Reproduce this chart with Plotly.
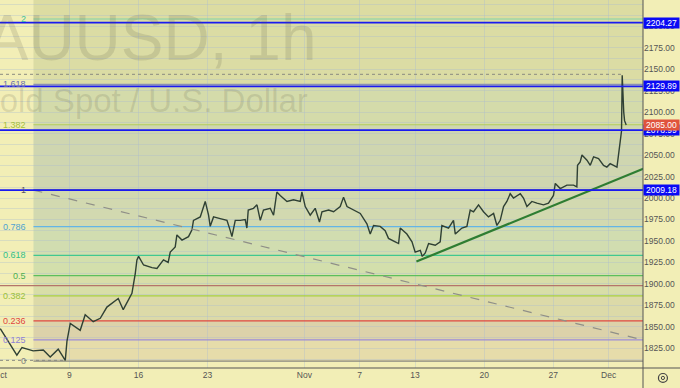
import plotly.graph_objects as go

# ---- data (x = trading days since Mon 2 Oct 2023) ----
day = [0.01, 0.49, 1.21, 1.58, 2.39, 3.12, 3.62, 4.20, 4.71, 4.83, 5.07, 5.79, 6.15, 6.73, 7.24, 7.72,
       8.54, 8.90, 9.53, 9.77, 9.89, 10.01, 10.37, 10.98, 11.34, 11.81, 12.15, 12.30, 12.66, 12.78,
       13.15, 13.62, 13.87, 13.98, 14.47, 14.83, 15.07, 15.19, 15.43, 15.91, 16.40, 16.64, 16.76,
       17.00, 17.36, 17.72, 17.84, 17.94, 18.32, 18.57, 18.81, 19.04, 19.53, 19.77, 20.01, 20.25,
       20.74, 21.21, 21.70, 21.82, 22.06, 22.42, 22.78, 23.09, 23.27, 23.75, 24.11, 24.59, 24.83,
       25.08, 25.55, 26.04, 26.52, 26.76, 27.00, 27.48, 27.84, 28.08, 28.57, 28.81, 28.93, 29.41,
       29.78, 30.01, 30.38, 30.52, 30.74, 30.98, 31.46, 31.82, 31.94, 32.42, 32.78, 32.91, 33.39,
       33.75, 33.99, 34.23, 34.59, 34.95, 35.31, 35.68, 35.92, 36.16, 36.40, 36.64, 36.88, 37.12,
       37.61, 37.84, 38.09, 38.45, 38.81, 39.29, 39.65, 40.01, 40.14, 40.50, 40.98, 41.46, 41.70,
       41.75, 41.94, 42.07, 42.43, 42.67, 42.91, 43.27, 43.63, 43.87, 44.11, 44.35, 44.60, 44.71,
       44.84, 44.93, 44.98, 45.03, 45.09, 45.15, 45.21, 45.27]
price = [1848, 1835, 1817, 1826, 1822, 1823, 1815, 1824, 1811, 1833, 1854, 1846, 1864, 1856, 1860, 1873,
         1883, 1870, 1889, 1912, 1928, 1932, 1922, 1919, 1918, 1928, 1925, 1937, 1943, 1957,
         1951, 1955, 1963, 1974, 1978, 1996, 1980, 1967, 1978, 1976, 1974, 1962, 1955,
         1974, 1974, 1975, 1965, 1986, 1988, 1992, 1974, 1986, 1988, 1980, 2007, 2003,
         1996, 1998, 1996, 2007, 1990, 1980, 1988, 1972, 1984, 1986, 1984, 1990, 2001,
         1990, 1986, 1982, 1970, 1958, 1968, 1967, 1962, 1953, 1949, 1947, 1965, 1958,
         1949, 1937, 1939, 1932, 1936, 1947, 1945, 1949, 1968, 1965, 1974, 1958, 1965,
         1967, 1986, 1984, 1992, 1984, 1978, 1982, 1968, 1974, 1990, 1996, 2005, 2000,
         2005, 2000, 1990, 1996, 1994, 1992, 1994, 2003, 2017, 2011, 2015, 2015, 2013,
         2038, 2042, 2050, 2044, 2038, 2048, 2046, 2038, 2036, 2040, 2038, 2036, 2050,
         2068, 2078, 2143, 2118, 2100, 2090, 2087, 2085]

tick_days = [0, 5, 10, 15, 22, 26, 30, 35, 40, 44]
tick_text = ["Oct", "9", "16", "23", "Nov", "7", "13", "20", "27", "Dec"]

fib_levels = [0, 0.125, 0.236, 0.382, 0.5, 0.618, 0.786, 1, 1.382, 1.618, 2]
fib_labels = ["0", "0.125", "0.236", "0.382", "0.5", "0.618", "0.786", "1", "1.382", "1.618", "2"]
fib_low, fib_high = 1810.0, 2009.2
fib_start_day = 2.41

hlines_blue = [2204.27, 2129.89, 2078.99, 2009.18]
last_price = 2085.00
high_price, high_day = 2144.0, 45.0
low_price, low_day = 1811.0, 4.7
brown_level = 1898.0

trend_days = [30.1, 46.5]
trend_prices = [1926, 2034]
dash_days = [2.41, 46.5]
dash_prices = [2009.2, 1834.7]

# ---- styling ----
x_range = [-0.01, 46.483]
y_range = [1802.1, 2230.5]
bg = "#f2eeb6"
line_cols = ["#8a8a80", "#9c8cd8", "#e0463f", "#a8cf40", "#5cbf5c", "#40c890", "#64b5e6",
             "#4a4a70", "#b0cc58", "#8a8fb5", "#80d4a8"]
lab_cols = ["#808080", "#8d7fd8", "#e0463f", "#9bc13b", "#4caf50", "#2fbf8a", "#4fa3d1",
            "#555566", "#a5c03a", "#6a6fb0", "#3dbf9a"]
band_cols = ["#e6dcaa", "#dcd2aa", "#dcdaa8", "#d8dea8", "#d3dfac", "#d1ddb0", "#d2d9b0",
             "#cfd6b0", "#d4dbaa", "#dbdca4", "#dcdca2"]

fig = go.Figure()
fig.add_trace(go.Scatter(x=day, y=price, mode="lines",
                         line=dict(color="#2f4034", width=1.4), hoverinfo="skip"))

shapes = []
fib_prices = [fib_low + l * (fib_high - fib_low) for l in fib_levels]
tops = fib_prices[1:] + [y_range[1]]
for p0, p1, c in zip(fib_prices, tops, band_cols):
    shapes.append(dict(type="rect", xref="x", yref="y", x0=fib_start_day, x1=x_range[1],
                       y0=p0, y1=p1, fillcolor=c, line=dict(width=0), layer="below"))
for p, c in zip(fib_prices, line_cols):
    shapes.append(dict(type="line", xref="x", yref="y", x0=fib_start_day, x1=x_range[1],
                       y0=p, y1=p, line=dict(color=c, width=1.2), layer="between"))
shapes.append(dict(type="line", xref="x", yref="y", x0=x_range[0], x1=x_range[1],
                   y0=brown_level, y1=brown_level, line=dict(color="#b5756a", width=1.2),
                   layer="between"))
shapes.append(dict(type="line", xref="x", yref="y", x0=x_range[0], x1=high_day,
                   y0=high_price, y1=high_price, line=dict(color="#8a8a80", width=1, dash="dot"),
                   layer="between"))
shapes.append(dict(type="line", xref="x", yref="y", x0=x_range[0], x1=low_day,
                   y0=low_price, y1=low_price, line=dict(color="#8a8a80", width=1, dash="dot"),
                   layer="between"))
shapes.append(dict(type="line", xref="x", yref="y", x0=dash_days[0], x1=dash_days[1],
                   y0=dash_prices[0], y1=dash_prices[1],
                   line=dict(color="#8f8f88", width=1.2, dash="dash"), layer="above"))
shapes.append(dict(type="line", xref="x", yref="y", x0=trend_days[0], x1=trend_days[1],
                   y0=trend_prices[0], y1=trend_prices[1],
                   line=dict(color="#2e7d32", width=2.2), layer="above"))
for p in hlines_blue:
    shapes.append(dict(type="line", xref="x", yref="y", x0=x_range[0], x1=x_range[1],
                       y0=p, y1=p, line=dict(color="#1a1af0", width=1.8), layer="above"))
# axis separators
shapes.append(dict(type="line", xref="paper", yref="paper", x0=1, x1=1, y0=-0.06, y1=1,
                   line=dict(color="#555555", width=1)))
shapes.append(dict(type="line", xref="paper", yref="paper", x0=0, x1=1.06, y0=0, y1=0,
                   line=dict(color="#555555", width=1)))
# gear icon
shapes.append(dict(type="circle", xref="paper", yref="paper", x0=1.024, x1=1.038,
                   y0=-0.039, y1=-0.015, line=dict(color="#444", width=1.2)))
shapes.append(dict(type="circle", xref="paper", yref="paper", x0=1.0285, x1=1.0335,
                   y0=-0.0315, y1=-0.0225, line=dict(color="#444", width=1)))

annotations = []
annotations.append(dict(text="XAUUSD, 1h", xref="paper", yref="paper", x=318 / 643, y=1 - 0 / 368,
                        xanchor="right", yanchor="top", showarrow=False,
                        font=dict(family="Liberation Sans", size=64, color="rgba(90,90,70,0.16)")))
annotations.append(dict(text="Gold Spot / U.S. Dollar", xref="paper", yref="paper",
                        x=310 / 643, y=1 - 80 / 368, xanchor="right", yanchor="top",
                        showarrow=False,
                        font=dict(family="Liberation Sans", size=33, color="rgba(90,90,70,0.16)")))
for p, t, c in zip(fib_prices, fib_labels, lab_cols):
    annotations.append(dict(text=t, xref="x", yref="y", x=fib_start_day, y=p, xanchor="right",
                            yanchor="middle", xshift=-5, showarrow=False,
                            font=dict(family="Liberation Sans", size=9, color=c)))
for p in hlines_blue:
    annotations.append(dict(text=f"{p:.2f}", xref="paper", yref="y", x=1, y=p, xanchor="left",
                            yanchor="middle", showarrow=False, bgcolor="#0a0af5", width=35,
                            height=10, borderpad=0, align="center",
                            font=dict(family="Liberation Sans", size=8.5, color="white")))
annotations.append(dict(text=f"{last_price:.2f}", xref="paper", yref="y", x=1, y=last_price,
                        xanchor="left", yanchor="middle", showarrow=False, bgcolor="#e0533d",
                        width=35, height=10, borderpad=0, align="center",
                        font=dict(family="Liberation Sans", size=8.5, color="white")))

grid = "rgba(170,185,210,0.35)"
fig.update_layout(
    width=680, height=388,
    margin=dict(l=0, r=37, t=0, b=20, autoexpand=False),
    paper_bgcolor=bg, plot_bgcolor=bg,
    showlegend=False,
    shapes=shapes, annotations=annotations,
    xaxis=dict(range=x_range, tickvals=tick_days, ticktext=tick_text, showgrid=True,
               gridcolor=grid, gridwidth=1, zeroline=False, showline=False, ticks="",
               automargin=False, ticklabeloverflow="allow",
               tickfont=dict(family="Liberation Sans", size=8.5, color="#555"),
               fixedrange=True),
    yaxis=dict(range=y_range, side="right", dtick=25, tick0=1800, tickformat=".2f",
               showgrid=True, gridcolor=grid, gridwidth=1, zeroline=False, showline=False,
               ticks="", automargin=False,
               tickfont=dict(family="Liberation Sans", size=8.5, color="#555"),
               minor=dict(dtick=12.5, tick0=1800, showgrid=True, gridcolor=grid, gridwidth=1),
               fixedrange=True),
)
fig.write_html("out.html", config={"displayModeBar": False},
               post_script="document.body.style.margin='0';document.body.style.overflow='hidden';")
